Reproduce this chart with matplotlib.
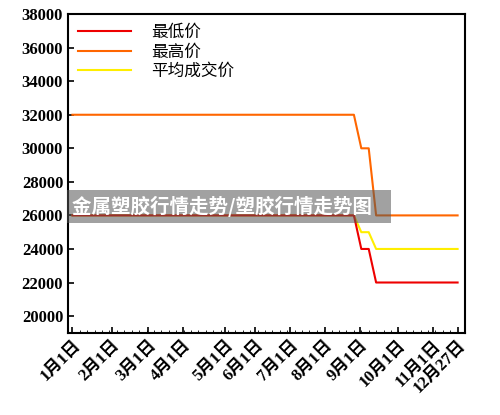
import matplotlib
matplotlib.use("Agg")
import matplotlib.pyplot as plt
import numpy as np

# weekly points, week 0 = Jan 1, week 52 = Dec 27
weeks = np.arange(53)
low_price = [26000] * 39 + [24000, 24000] + [22000] * 12
high_price = [32000] * 39 + [30000, 30000] + [26000] * 12
avg_price = [26000] * 39 + [25000, 25000] + [24000] * 12

tick_weeks = [0, 5.3, 10.2, 14.9, 20.6, 24.7, 29.4, 34.1, 38.8, 43.9, 48.7, 52]
tick_labels = ["1月1日", "2月1日", "3月1日", "4月1日", "5月1日", "6月1日",
               "7月1日", "8月1日", "9月1日", "10月1日", "11月1日", "12月27日"]

serif = ["Liberation Serif", "Noto Sans CJK SC"]
cjk = ["Noto Sans CJK SC", "DejaVu Sans"]

fig = plt.figure(figsize=(5, 4.15), dpi=100)
ax = fig.add_axes([0.136, 0.198, 0.794, 0.768])

ax.plot(weeks, avg_price, color="#ffee00", lw=1.5, label="平均成交价", zorder=2)
ax.plot(weeks, high_price, color="#ff6600", lw=1.5, label="最高价", zorder=3)
ax.plot(weeks, low_price, color="#ee0000", lw=1.5, label="最低价", zorder=4)

ax.set_xlim(-0.6, 53)
ax.set_ylim(19000, 38000)
ax.set_yticks(np.arange(20000, 38001, 2000))
ax.set_xticks(tick_weeks)
ax.set_xticklabels(tick_labels, rotation=45, ha="right", rotation_mode="anchor",
                   family=serif, fontweight="bold", fontsize=12)
ax.set_xticks(weeks, minor=True)
for lab in ax.get_yticklabels():
    lab.set_family(serif)
    lab.set_fontweight("bold")
    lab.set_fontsize(12)
ax.tick_params(axis="both", direction="in", width=1.2, length=4)
ax.tick_params(axis="x", which="minor", direction="in", length=2.5)
for s in ax.spines.values():
    s.set_linewidth(1.5)

handles, labels = ax.get_legend_handles_labels()
order = [2, 1, 0]
ax.legend([handles[i] for i in order], [labels[i] for i in order],
          loc="upper left", frameon=False, prop={"family": cjk, "size": 12},
          handlelength=3.2, handletextpad=1.2, borderaxespad=0.2, labelspacing=0.15)

# watermark banner
fig.text(0.145, 0.503, "金属塑胶行情走势/塑胶行情走势图   ", color="white", fontsize=14,
         fontweight="bold", family=cjk, va="center", ha="left", zorder=10,
         bbox=dict(facecolor="#555555", alpha=0.55, edgecolor="none",
                   boxstyle="square,pad=0.3"))

fig.savefig("out.png", dpi=100)
